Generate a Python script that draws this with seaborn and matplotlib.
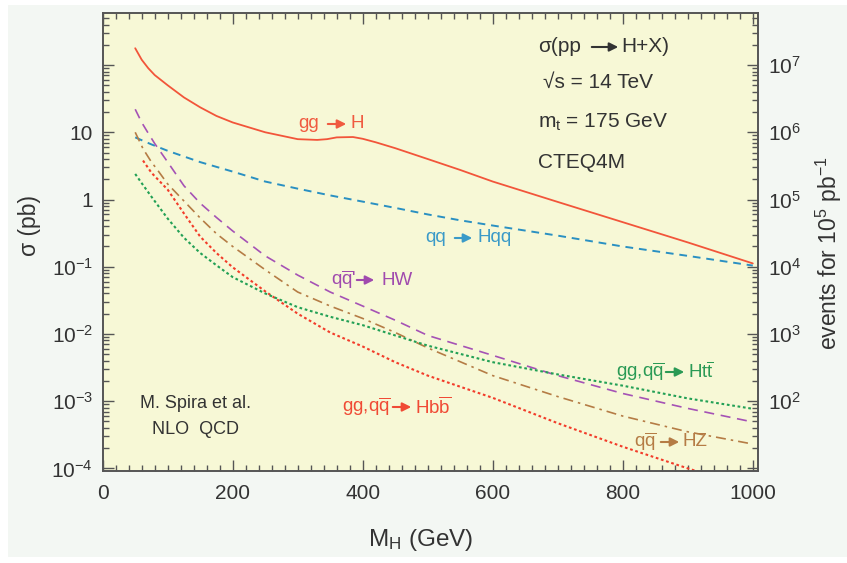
import numpy as np
import pandas as pd
import seaborn as sns
import matplotlib
matplotlib.use("Agg")
import matplotlib.pyplot as plt
from matplotlib.patches import Rectangle, FancyArrowPatch
from matplotlib.ticker import FixedLocator, LogLocator, NullFormatter, FixedFormatter, MultipleLocator

# ---------------- data ----------------
m_ggH = [50, 60, 70, 80, 100, 125, 150, 175, 200, 250, 300, 330, 345, 360, 385, 400, 420, 450, 500, 550, 600, 700, 800, 900, 1000]
s_ggH = [178, 120, 90, 71, 50, 33, 23.5, 17.5, 14, 10, 7.9, 7.7, 7.9, 8.4, 8.5, 8.0, 7.1, 5.8, 4.0, 2.75, 1.85, 0.92, 0.46, 0.23, 0.112]

m_Hqq = [50, 75, 100, 150, 200, 250, 300, 350, 400, 450, 500, 550, 600, 700, 800, 900, 1000]
s_Hqq = [8.4, 6.6, 5.3, 3.6, 2.6, 1.85, 1.45, 1.15, 0.93, 0.75, 0.6, 0.49, 0.41, 0.29, 0.2, 0.145, 0.104]

m_HW = [50, 60, 70, 80, 100, 125, 150, 175, 200, 250, 300, 350, 400, 450, 500, 600, 700, 800, 900, 1000]
s_HW = [22, 14, 9.7, 6.8, 3.6, 1.6, 0.88, 0.54, 0.34, 0.145, 0.075, 0.042, 0.026, 0.016, 0.0095, 0.0048, 0.0024, 0.0013, 0.00078, 0.00049]

m_HZ = [50, 62, 75, 83, 100, 125, 150, 175, 200, 250, 300, 350, 400, 450, 500, 600, 700, 800, 900, 1000]
s_HZ = [10, 5.7, 3.6, 2.86, 1.7, 0.95, 0.53, 0.31, 0.2, 0.09, 0.042, 0.026, 0.017, 0.0105, 0.0062, 0.0024, 0.00117, 0.0006, 0.00035, 0.00023]

m_Hbb = [62, 75, 100, 125, 150, 175, 200, 250, 300, 350, 400, 450, 500, 600, 700, 800, 900, 1000]
s_Hbb = [3.8, 2.5, 1.4, 0.62, 0.28, 0.16, 0.098, 0.043, 0.02, 0.0105, 0.0065, 0.0038, 0.0024, 0.00112, 0.00047, 0.00021, 0.0001, 5e-5]

m_Htt = [50, 60, 75, 100, 125, 150, 175, 200, 250, 300, 350, 400, 450, 500, 600, 700, 800, 900, 1000]
s_Htt = [2.4, 1.75, 1.1, 0.52, 0.27, 0.16, 0.105, 0.07, 0.04, 0.025, 0.018, 0.0135, 0.0095, 0.0067, 0.0038, 0.0025, 0.0017, 0.0011, 0.00077]

x_ticks = [0, 200, 400, 600, 800, 1000]
y_ticks = [1e-4, 1e-3, 1e-2, 1e-1, 1, 10, 100]
y_labels = ["$10^{-4}$", "$10^{-3}$", "$10^{-2}$", "$10^{-1}$", "1", "10", ""]
r_ticks = [1e1, 1e2, 1e3, 1e4, 1e5, 1e6, 1e7]
r_labels = ["", "$10^{2}$", "$10^{3}$", "$10^{4}$", "$10^{5}$", "$10^{6}$", "$10^{7}$"]

# ---------------- style ----------------
sns.set_theme(style="ticks")
plt.rcParams["font.family"] = ["Liberation Sans", "DejaVu Sans"]
plt.rcParams["mathtext.fontset"] = "custom"
plt.rcParams["mathtext.rm"] = "Liberation Sans"
plt.rcParams["mathtext.it"] = "Liberation Sans:italic"
plt.rcParams["mathtext.default"] = "regular"

W, H = 847, 563
fig = plt.figure(figsize=(W / 100, H / 100), dpi=100, facecolor="white")
fig.patches.append(Rectangle((8 / W, 1 - 557 / H), 1 - 8 / W, 552 / H,
                             transform=fig.transFigure, facecolor="#f3f7f3",
                             edgecolor="none", zorder=-10))

L, R, T, B = 102.7, 758.0, 13.3, 470.5
ax = fig.add_axes([L / W, 1 - B / H, (R - L) / W, (B - T) / H])
ax.set_facecolor("#f7f8d6")

TXT = "#333333"
SPINE = "#555555"

series = [
    (m_ggH, s_ggH, "#f2553a", "-", 1.3),
    (m_Hqq, s_Hqq, "#2a90c2", (0, (4, 3)), 1.4),
    (m_HW, s_HW, "#a552b5", (0, (6, 4)), 1.2),
    (m_HZ, s_HZ, "#b57c45", (0, (6, 3, 1.5, 3)), 1.2),
    (m_Hbb, s_Hbb, "#f23c2a", (0, (1.3, 1.3)), 1.5),
    (m_Htt, s_Htt, "#22a055", (0, (1.3, 1.3)), 1.5),
]
for m, s, c, ls, lw in series:
    df = pd.DataFrame({"M": m, "sigma": s})
    sns.lineplot(data=df, x="M", y="sigma", ax=ax, color=c, linestyle=ls, lw=lw)

ax.set_yscale("log")
ax.set_xlim(0, 1008)
ax.set_ylim(9.3e-5, 589)
ax.set_xlabel("")
ax.set_ylabel("")
ax.xaxis.set_major_locator(FixedLocator(x_ticks))
ax.xaxis.set_minor_locator(MultipleLocator(20))
ax.yaxis.set_major_locator(FixedLocator(y_ticks))
ax.yaxis.set_major_formatter(FixedFormatter(y_labels))
ax.yaxis.set_minor_locator(LogLocator(base=10, subs=np.arange(2, 10)))
ax.yaxis.set_minor_formatter(NullFormatter())
ax.tick_params(axis="both", which="both", direction="in", colors=SPINE, labelcolor=TXT,
               width=1.0, top=True, right=False)
ax.tick_params(axis="both", which="major", length=8, labelsize=15)
ax.tick_params(axis="both", which="minor", length=4.5)
ax.tick_params(axis="x", which="major", pad=10)
ax.tick_params(axis="y", which="major", pad=7)
for sp in ax.spines.values():
    sp.set_color(SPINE)
    sp.set_linewidth(1.2)

ax2 = ax.twinx()
ax2.set_yscale("log")
ax2.set_ylim(9.3e-5 * 1e5, 589 * 1e5)
ax2.yaxis.set_major_locator(FixedLocator(r_ticks))
ax2.yaxis.set_major_formatter(FixedFormatter(r_labels))
ax2.yaxis.set_minor_locator(LogLocator(base=10, subs=np.arange(2, 10)))
ax2.yaxis.set_minor_formatter(NullFormatter())
ax2.tick_params(axis="y", which="both", direction="in", colors=SPINE, labelcolor=TXT, width=1.0)
ax2.tick_params(axis="y", which="major", length=8, labelsize=15, pad=7)
ax2.tick_params(axis="y", which="minor", length=4.5)
for sp in ax2.spines.values():
    sp.set_color(SPINE)
    sp.set_linewidth(1.2)


def fx(px):
    return px / W


def fy(py):
    return 1 - py / H


# axis titles
fig.text(fx(29), fy(226), "σ (pb)", rotation=90, ha="center", va="center", fontsize=16.5, color=TXT)
fig.text(fx(421), fy(540), "M$_\\mathrm{H}$ (GeV)", ha="center", va="center", fontsize=17.5, color=TXT)
fig.text(fx(829), fy(253), "events for 10$^5$ pb$^{-1}$", rotation=90, ha="center", va="center",
         fontsize=16.5, color=TXT)


# labels with arrows
def arrow(x0, x1, y, c):
    fig.add_artist(FancyArrowPatch(
        (fx(x0), fy(y)), (fx(x1), fy(y)), transform=fig.transFigure,
        arrowstyle="-|>", mutation_scale=13, color=c, lw=1.5))


def label(left, right, x_left, x_a0, x_a1, x_right, y, c, fs=13.5):
    fig.text(fx(x_left), fy(y), left, ha="left", va="center", fontsize=fs, color=c)
    arrow(x_a0, x_a1, y, c)
    fig.text(fx(x_right), fy(y), right, ha="left", va="center", fontsize=fs, color=c)


label("gg", "H", 298, 325, 349, 350, 124, "#f05a40")
label("qq", "Hqq", 425, 452, 475, 477, 238, "#3a9ac8")
label("q$\\overline{\\rm q}$'", "HW", 331, 354, 377, 381, 280, "#a04aae")
label("gg,q$\\overline{\\rm q}$", "Hb$\\overline{\\rm b}$", 342, 390, 414, 415, 407, "#f04a35")
label("gg,q$\\overline{\\rm q}$", "Ht$\\overline{\\rm t}$", 616, 663, 687, 688, 372, "#2a9a55")
label("q$\\overline{\\rm q}$", "HZ", 634, 658, 682, 682, 442, "#b57c45")

# info block
label("σ(pp", "H+X)", 538, 589, 621, 621, 47, TXT, fs=15)
fig.text(fx(543), fy(82), "√s = 14 TeV", ha="left", va="center", fontsize=15, color=TXT)
fig.text(fx(538), fy(122), "m$_\\mathrm{t}$ = 175 GeV", ha="left", va="center", fontsize=15, color=TXT)
fig.text(fx(538), fy(162), "CTEQ4M", ha="left", va="center", fontsize=15, color=TXT)

fig.text(fx(140), fy(403), "M. Spira et al.", ha="left", va="center", fontsize=13, color=TXT)
fig.text(fx(152), fy(430), "NLO  QCD", ha="left", va="center", fontsize=13, color=TXT)

fig.savefig("out.png", dpi=100, facecolor=fig.get_facecolor())
